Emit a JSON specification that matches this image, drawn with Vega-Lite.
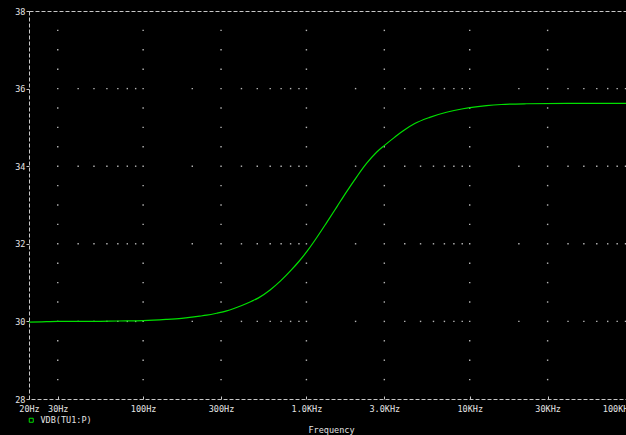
{
  "$schema": "https://vega.github.io/schema/vega-lite/v6.json",
  "width": 604,
  "height": 388,
  "autosize": {"type": "none"},
  "padding": {"left": 29, "top": 11, "right": 0, "bottom": 36},
  "background": "#000000",
  "config": {
    "view": {"stroke": "#c8c8c8", "strokeDash": [4, 2], "strokeWidth": 1},
    "font": "DejaVu Sans Mono",
    "axis": {
      "labelFont": "DejaVu Sans Mono",
      "labelFontSize": 8.5,
      "labelColor": "#e4e4e4",
      "tickColor": "#c8c8c8",
      "domain": false,
      "grid": false,
      "titleFont": "DejaVu Sans Mono",
      "titleFontSize": 8.5,
      "titleColor": "#e4e4e4",
      "titleFontWeight": "normal"
    }
  },
  "datasets": {
    "curve": [
      {"f": 20, "v": 29.98}, {"f": 24, "v": 29.99}, {"f": 30, "v": 30.0}, {"f": 50, "v": 30.0},
      {"f": 70, "v": 30.01}, {"f": 100, "v": 30.02}, {"f": 138, "v": 30.05}, {"f": 172, "v": 30.08},
      {"f": 199, "v": 30.11}, {"f": 222, "v": 30.135}, {"f": 245, "v": 30.16}, {"f": 282, "v": 30.21},
      {"f": 325, "v": 30.27}, {"f": 402, "v": 30.41}, {"f": 462, "v": 30.52}, {"f": 506, "v": 30.6},
      {"f": 599, "v": 30.81}, {"f": 697, "v": 31.05}, {"f": 806, "v": 31.32}, {"f": 902, "v": 31.55},
      {"f": 1010, "v": 31.81}, {"f": 1152, "v": 32.15}, {"f": 1327, "v": 32.54}, {"f": 1529, "v": 32.94},
      {"f": 1760, "v": 33.34}, {"f": 2028, "v": 33.72}, {"f": 2334, "v": 34.07}, {"f": 2688, "v": 34.36},
      {"f": 3034, "v": 34.55}, {"f": 3478, "v": 34.75}, {"f": 4000, "v": 34.94}, {"f": 4608, "v": 35.1},
      {"f": 5690, "v": 35.26}, {"f": 7205, "v": 35.39}, {"f": 9104, "v": 35.48}, {"f": 12670, "v": 35.56},
      {"f": 15640, "v": 35.59}, {"f": 22280, "v": 35.61}, {"f": 40000, "v": 35.62}, {"f": 100000, "v": 35.62}
    ],
    "dots": [
      {"f":30,"v":28.5},{"f":30,"v":29},{"f":30,"v":29.5},{"f":30,"v":30},{"f":30,"v":30.5},{"f":30,"v":31},{"f":30,"v":31.5},{"f":30,"v":32},{"f":30,"v":32.5},{"f":30,"v":33},{"f":30,"v":33.5},{"f":30,"v":34},{"f":30,"v":34.5},{"f":30,"v":35},{"f":30,"v":35.5},{"f":30,"v":36},{"f":30,"v":36.5},{"f":30,"v":37},{"f":30,"v":37.5},
      {"f":100,"v":28.5},{"f":100,"v":29},{"f":100,"v":29.5},{"f":100,"v":30},{"f":100,"v":30.5},{"f":100,"v":31},{"f":100,"v":31.5},{"f":100,"v":32},{"f":100,"v":32.5},{"f":100,"v":33},{"f":100,"v":33.5},{"f":100,"v":34},{"f":100,"v":34.5},{"f":100,"v":35},{"f":100,"v":35.5},{"f":100,"v":36},{"f":100,"v":36.5},{"f":100,"v":37},{"f":100,"v":37.5},
      {"f":300,"v":28.5},{"f":300,"v":29},{"f":300,"v":29.5},{"f":300,"v":30},{"f":300,"v":30.5},{"f":300,"v":31},{"f":300,"v":31.5},{"f":300,"v":32},{"f":300,"v":32.5},{"f":300,"v":33},{"f":300,"v":33.5},{"f":300,"v":34},{"f":300,"v":34.5},{"f":300,"v":35},{"f":300,"v":35.5},{"f":300,"v":36},{"f":300,"v":36.5},{"f":300,"v":37},{"f":300,"v":37.5},
      {"f":1000,"v":28.5},{"f":1000,"v":29},{"f":1000,"v":29.5},{"f":1000,"v":30},{"f":1000,"v":30.5},{"f":1000,"v":31},{"f":1000,"v":31.5},{"f":1000,"v":32},{"f":1000,"v":32.5},{"f":1000,"v":33},{"f":1000,"v":33.5},{"f":1000,"v":34},{"f":1000,"v":34.5},{"f":1000,"v":35},{"f":1000,"v":35.5},{"f":1000,"v":36},{"f":1000,"v":36.5},{"f":1000,"v":37},{"f":1000,"v":37.5},
      {"f":3000,"v":28.5},{"f":3000,"v":29},{"f":3000,"v":29.5},{"f":3000,"v":30},{"f":3000,"v":30.5},{"f":3000,"v":31},{"f":3000,"v":31.5},{"f":3000,"v":32},{"f":3000,"v":32.5},{"f":3000,"v":33},{"f":3000,"v":33.5},{"f":3000,"v":34},{"f":3000,"v":34.5},{"f":3000,"v":35},{"f":3000,"v":35.5},{"f":3000,"v":36},{"f":3000,"v":36.5},{"f":3000,"v":37},{"f":3000,"v":37.5},
      {"f":10000,"v":28.5},{"f":10000,"v":29},{"f":10000,"v":29.5},{"f":10000,"v":30},{"f":10000,"v":30.5},{"f":10000,"v":31},{"f":10000,"v":31.5},{"f":10000,"v":32},{"f":10000,"v":32.5},{"f":10000,"v":33},{"f":10000,"v":33.5},{"f":10000,"v":34},{"f":10000,"v":34.5},{"f":10000,"v":35},{"f":10000,"v":35.5},{"f":10000,"v":36},{"f":10000,"v":36.5},{"f":10000,"v":37},{"f":10000,"v":37.5},
      {"f":30000,"v":28.5},{"f":30000,"v":29},{"f":30000,"v":29.5},{"f":30000,"v":30},{"f":30000,"v":30.5},{"f":30000,"v":31},{"f":30000,"v":31.5},{"f":30000,"v":32},{"f":30000,"v":32.5},{"f":30000,"v":33},{"f":30000,"v":33.5},{"f":30000,"v":34},{"f":30000,"v":34.5},{"f":30000,"v":35},{"f":30000,"v":35.5},{"f":30000,"v":36},{"f":30000,"v":36.5},{"f":30000,"v":37},{"f":30000,"v":37.5},
      {"f":40,"v":30},{"f":50,"v":30},{"f":60,"v":30},{"f":70,"v":30},{"f":80,"v":30},{"f":90,"v":30},{"f":200,"v":30},{"f":400,"v":30},{"f":500,"v":30},{"f":600,"v":30},{"f":700,"v":30},{"f":800,"v":30},{"f":900,"v":30},{"f":2000,"v":30},{"f":4000,"v":30},{"f":5000,"v":30},{"f":6000,"v":30},{"f":7000,"v":30},{"f":8000,"v":30},{"f":9000,"v":30},{"f":20000,"v":30},{"f":40000,"v":30},{"f":50000,"v":30},{"f":60000,"v":30},{"f":70000,"v":30},{"f":80000,"v":30},{"f":90000,"v":30},
      {"f":40,"v":32},{"f":50,"v":32},{"f":60,"v":32},{"f":70,"v":32},{"f":80,"v":32},{"f":90,"v":32},{"f":200,"v":32},{"f":400,"v":32},{"f":500,"v":32},{"f":600,"v":32},{"f":700,"v":32},{"f":800,"v":32},{"f":900,"v":32},{"f":2000,"v":32},{"f":4000,"v":32},{"f":5000,"v":32},{"f":6000,"v":32},{"f":7000,"v":32},{"f":8000,"v":32},{"f":9000,"v":32},{"f":20000,"v":32},{"f":40000,"v":32},{"f":50000,"v":32},{"f":60000,"v":32},{"f":70000,"v":32},{"f":80000,"v":32},{"f":90000,"v":32},
      {"f":40,"v":34},{"f":50,"v":34},{"f":60,"v":34},{"f":70,"v":34},{"f":80,"v":34},{"f":90,"v":34},{"f":200,"v":34},{"f":400,"v":34},{"f":500,"v":34},{"f":600,"v":34},{"f":700,"v":34},{"f":800,"v":34},{"f":900,"v":34},{"f":2000,"v":34},{"f":4000,"v":34},{"f":5000,"v":34},{"f":6000,"v":34},{"f":7000,"v":34},{"f":8000,"v":34},{"f":9000,"v":34},{"f":20000,"v":34},{"f":40000,"v":34},{"f":50000,"v":34},{"f":60000,"v":34},{"f":70000,"v":34},{"f":80000,"v":34},{"f":90000,"v":34},
      {"f":40,"v":36},{"f":50,"v":36},{"f":60,"v":36},{"f":70,"v":36},{"f":80,"v":36},{"f":90,"v":36},{"f":200,"v":36},{"f":400,"v":36},{"f":500,"v":36},{"f":600,"v":36},{"f":700,"v":36},{"f":800,"v":36},{"f":900,"v":36},{"f":2000,"v":36},{"f":4000,"v":36},{"f":5000,"v":36},{"f":6000,"v":36},{"f":7000,"v":36},{"f":8000,"v":36},{"f":9000,"v":36},{"f":20000,"v":36},{"f":40000,"v":36},{"f":50000,"v":36},{"f":60000,"v":36},{"f":70000,"v":36},{"f":80000,"v":36},{"f":90000,"v":36}
    ]
  },
  "encoding": {
    "x": {
      "field": "f",
      "type": "quantitative",
      "scale": {"type": "log", "domain": [20, 100000]},
      "axis": {
        "title": "Frequency",
        "values": [20, 30, 100, 300, 1000, 3000, 10000, 30000, 100000],
        "labelExpr": "datum.value < 1000 ? datum.value + 'Hz' : datum.value < 10000 ? format(datum.value / 1000, '.1f') + 'KHz' : (datum.value / 1000) + 'KHz'",
        "tickSize": -3,
        "labelPadding": 8,
        "labelAlign": {"condition": {"test": "datum.value == 100000", "value": "right"}, "value": "center"},
        "labelFlush": false,
        "labelOverlap": false,
        "labelBound": false,
        "titlePadding": 13
      }
    },
    "y": {
      "field": "v",
      "type": "quantitative",
      "scale": {"domain": [28, 38]},
      "axis": {
        "title": null,
        "values": [28, 30, 32, 34, 36, 38],
        "tickSize": 3,
        "labelPadding": 1,
        "labelFlush": false,
        "labelOverlap": false
      }
    }
  },
  "layer": [
    {
      "data": {"name": "dots"},
      "mark": {"type": "point", "shape": "square", "filled": true, "size": 2, "color": "#b4b4b4", "opacity": 1}
    },
    {
      "data": {"name": "curve"},
      "mark": {"type": "line", "strokeWidth": 1.2, "interpolate": "monotone"},
      "encoding": {
        "color": {
          "datum": "VDB(TU1:P)",
          "scale": {"range": ["#00e000"]},
          "legend": {
            "title": null,
            "orient": "none",
            "legendX": -2,
            "legendY": 405,
            "symbolType": "square",
            "symbolSize": 16,
            "symbolStrokeWidth": 1,
            "symbolFillColor": "transparent",
            "labelFont": "DejaVu Sans Mono",
            "labelFontSize": 8.5,
            "labelColor": "#e4e4e4",
            "labelOffset": 5,
            "padding": 0
          }
        }
      }
    }
  ]
}
